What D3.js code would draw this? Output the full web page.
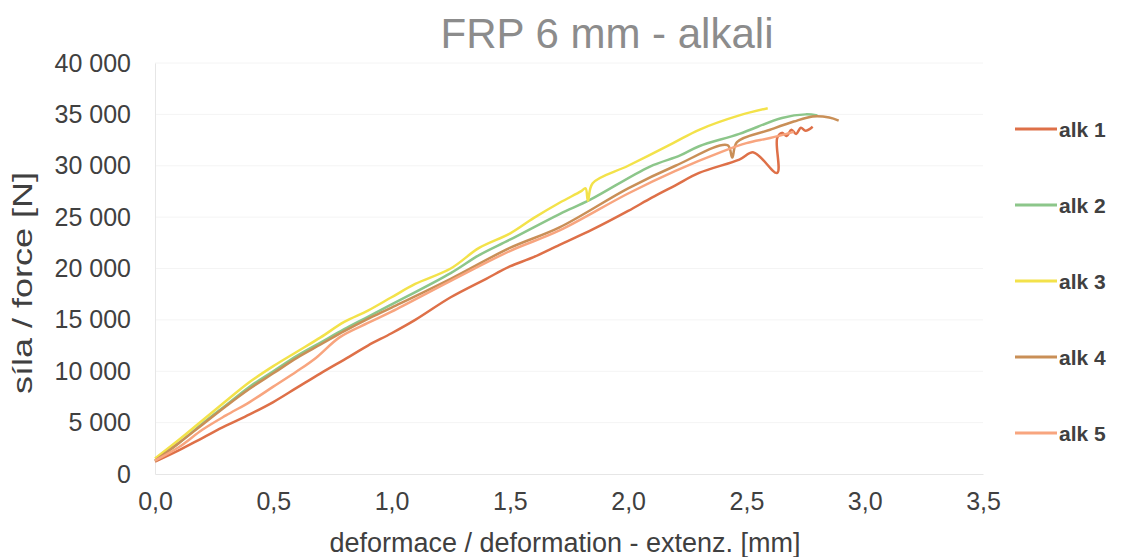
<!DOCTYPE html>
<html><head><meta charset="utf-8">
<script src="https://cdn.jsdelivr.net/npm/d3@7"></script>
<style>body{margin:0;background:#fff}svg{display:block}text{font-family:"Liberation Sans",Arial,sans-serif}</style>
</head><body><svg id="c" width="1124" height="557"></svg>
<script>
const title = "FRP 6 mm - alkali";
const xTitle = "deformace / deformation - extenz. [mm]";
const yTitle = "síla / force [N]";
const xTicks = [0, 0.5, 1, 1.5, 2, 2.5, 3, 3.5];
const yTicks = [0, 5000, 10000, 15000, 20000, 25000, 30000, 35000, 40000];
const seriesNames = ["alk 1", "alk 2", "alk 3", "alk 4", "alk 5"];
const seriesColors = ["#de7048", "#8cc68a", "#f3e24a", "#c98f57", "#f8a57f"];

const alk1 = [[0,1200],[0.1,2300],[0.2,3500],[0.3,4700],[0.4,5800],[0.5,7000],[0.6,8400],[0.7,9800],[0.82,11400],[0.9,12500],[1.0,13700],[1.1,15000],[1.25,17200],[1.4,19000],[1.5,20200],[1.6,21100],[1.71,22300],[1.85,23800],[2.0,25600],[2.1,26900],[2.2,28100],[2.3,29300],[2.47,30600],[2.53,31300],[2.63,29300],[2.63,32700],[2.65,33200],[2.67,32900],[2.69,33500],[2.71,33100],[2.73,33700],[2.75,33400],[2.78,33800]];
const alk2 = [[0,1300],[0.1,3000],[0.2,4900],[0.3,6700],[0.4,8500],[0.5,10000],[0.6,11500],[0.7,12800],[0.8,14100],[0.9,15300],[1.0,16500],[1.25,19550],[1.37,21300],[1.5,22800],[1.71,25300],[1.84,26700],[2.09,29900],[2.22,31000],[2.3,31900],[2.47,33100],[2.65,34650],[2.75,35000],[2.8,34900]];
const alk3 = [[0,1500],[0.1,3300],[0.2,5200],[0.3,7100],[0.4,8950],[0.5,10500],[0.6,11900],[0.7,13300],[0.8,14800],[0.9,15900],[1.0,17200],[1.1,18500],[1.25,20000],[1.37,22000],[1.5,23400],[1.6,24900],[1.71,26400],[1.8,27500],[1.82,27800],[1.83,26600],[1.85,28300],[2.0,30000],[2.19,32200],[2.3,33500],[2.47,34900],[2.59,35600]];
const alk4 = [[0,1300],[0.1,3000],[0.2,4800],[0.3,6600],[0.4,8300],[0.5,9800],[0.6,11300],[0.7,12600],[0.8,13900],[0.9,15100],[1.0,16200],[1.25,19000],[1.5,22000],[1.71,24000],[2.0,27800],[2.2,30000],[2.42,32000],[2.44,30800],[2.46,32300],[2.6,33500],[2.7,34300],[2.78,34800],[2.85,34700],[2.89,34400]];
const alk5 = [[0,1300],[0.1,2600],[0.2,4300],[0.3,5700],[0.4,7000],[0.5,8500],[0.6,10000],[0.68,11300],[0.78,13300],[0.9,14700],[1.0,15800],[1.25,18800],[1.5,21700],[1.71,23700],[2.0,27300],[2.2,29500],[2.4,31400],[2.5,32200],[2.6,32700],[2.7,33300]];
const seriesData = [alk1, alk2, alk3, alk4, alk5];

const svg = d3.select("#c");
const L = 155, R = 983, T = 63, B = 474;
const x = d3.scaleLinear().domain([0, 3.5]).range([L, R]);
const y = d3.scaleLinear().domain([0, 40000]).range([B, T]);
const fmtY = v => v === 0 ? "0" : d3.format(",")(v).replace(",", " ");
const fmtX = v => d3.format(".1f")(v).replace(".", ",");

// gridlines
svg.append("g").selectAll("line").data(yTicks.slice(1)).join("line")
  .attr("x1", L).attr("x2", R).attr("y1", d => y(d)).attr("y2", d => y(d))
  .attr("stroke", "#f4f4f4").attr("stroke-width", 1);

// axes
const gx = svg.append("g").attr("transform", `translate(0,${B})`)
  .call(d3.axisBottom(x).tickValues(xTicks).tickFormat(fmtX).tickSize(0).tickPadding(18));
gx.select(".domain").attr("stroke", "#e6e6e6");
gx.selectAll("text").attr("font-size", 25).attr("fill", "#404040");

const gy = svg.append("g").attr("transform", `translate(${L},0)`)
  .call(d3.axisLeft(y).tickValues(yTicks).tickFormat(fmtY).tickSize(0).tickPadding(24));
gy.select(".domain").attr("stroke", "#e6e6e6");
gy.selectAll("text").attr("font-size", 25).attr("fill", "#404040");

// lines
const line = d3.line().x(d => x(d[0])).y(d => y(d[1])).curve(d3.curveCatmullRom.alpha(0.5));
svg.append("g").selectAll("path").data(seriesData).join("path")
  .attr("d", line).attr("fill", "none")
  .attr("stroke", (d, i) => seriesColors[i]).attr("stroke-width", 2.5)
  .attr("stroke-linejoin", "round");

// titles
svg.append("text").attr("x", 607).attr("y", 48).attr("text-anchor", "middle")
  .attr("font-size", 42).attr("fill", "#8c8c8c").text(title);
svg.append("text").attr("x", 565).attr("y", 552).attr("text-anchor", "middle")
  .attr("font-size", 27).attr("fill", "#404040").text(xTitle);
svg.append("text").attr("transform", "translate(32,283) rotate(-90)").attr("text-anchor", "middle")
  .attr("font-size", 28).attr("fill", "#404040")
  .attr("textLength", 222).attr("lengthAdjust", "spacingAndGlyphs").text(yTitle);

// legend
const legY = d3.scalePoint().domain(seriesNames).range([129, 433]);
const lg = svg.append("g").selectAll("g").data(seriesNames).join("g")
  .attr("transform", d => `translate(0,${legY(d)})`);
lg.append("line").attr("x1", 1015).attr("x2", 1057).attr("y1", 0).attr("y2", 0)
  .attr("stroke", (d, i) => seriesColors[i]).attr("stroke-width", 3);
lg.append("text").attr("x", 1059).attr("y", 0).attr("dy", "0.36em")
  .attr("font-size", 21).attr("font-weight", "bold").attr("fill", "#404040").text(d => d);
</script></body></html>
